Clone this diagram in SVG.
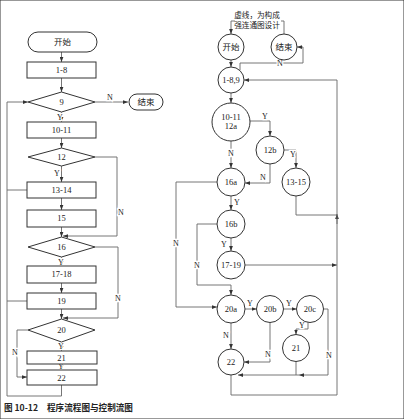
<svg xmlns="http://www.w3.org/2000/svg" width="404" height="419" viewBox="0 0 404 419">
<defs>
<marker id="a" viewBox="0 0 8 6" refX="8" refY="3" markerWidth="5" markerHeight="4" markerUnits="userSpaceOnUse" orient="auto"><path d="M0,0 L8,3 L0,6z" fill="#333"/></marker>
</defs>
<style>
rect,circle,polygon{fill:#fff;stroke:#333;stroke-width:1}
.c path{fill:none;stroke:#666;stroke-width:0.9}
.ar{marker-end:url(#a)}
text{font-family:"Liberation Serif","Noto Sans CJK SC",serif;font-size:8.5px;fill:#222;text-anchor:middle}
.cj{font-family:"Noto Sans CJK SC",sans-serif;font-size:8.5px}
.nt{font-family:"Noto Sans CJK SC",sans-serif;font-size:7.6px}
.l{font-size:8px;stroke:#fff;stroke-width:2.5px;paint-order:stroke}
.cap{font-family:"Noto Sans CJK SC",sans-serif;font-size:8.6px;font-weight:bold;text-anchor:start}
</style>
<rect width="404" height="419" fill="#fff" stroke="none"/>
<g class="c" id="connectors">
<path class="ar" d="M61.5,52V62"/>
<path class="ar" d="M61.5,78V92"/>
<path class="ar" d="M61.5,112V122"/>
<path class="ar" d="M95,102H128"/>
<path class="ar" d="M61.5,138V148"/>
<path class="ar" d="M61.5,166V182"/>
<path class="ar" d="M61.5,198V210"/>
<path class="ar" d="M61.5,227V237"/>
<path class="ar" d="M95,157H117V236H63"/>
<path class="ar" d="M61.5,257V266"/>
<path class="ar" d="M61.5,283V293"/>
<path class="ar" d="M61.5,309V319"/>
<path class="ar" d="M95,247H118V318H63"/>
<path class="ar" d="M61.5,342V351"/>
<path class="ar" d="M61.5,364V370"/>
<path class="ar" d="M28,330H17V377H27"/>
<path class="ar" d="M61.5,385V396H7V102H28"/>
<path d="M27,190H7"/>
<path d="M27,301H7"/>
<path class="ar" d="M235,21H231V34"/>
<path d="M281,21H284V34"/>
<path class="ar" d="M231,60V67"/>
<path class="ar" d="M231,93V103"/>
<path class="ar" d="M240,70V63H303V47H297"/>
<path class="ar" d="M250,121H270V136"/>
<path class="ar" d="M231,141V168"/>
<path class="ar" d="M284,150H296V168"/>
<path class="ar" d="M270,164V183H245"/>
<path class="ar" d="M217,182H176V307H217"/>
<path class="ar" d="M231,196V210"/>
<path d="M296,196V215H337"/>
<path class="ar" d="M337,224V214"/>
<path class="ar" d="M217,224H197V285H231V295"/>
<path class="ar" d="M231,238V251"/>
<path class="ar" d="M245,265H337"/>
<path class="ar" d="M245,309H256.5"/>
<path class="ar" d="M283.5,309H296.5"/>
<path class="ar" d="M308,322V329H296V334.5"/>
<path class="ar" d="M323.5,309H328V375H299"/>
<path class="ar" d="M299,375H238"/>
<path d="M296,361.5V375"/>
<path class="ar" d="M231,323V349"/>
<path class="ar" d="M270,322.5V362H244"/>
<path class="ar" d="M231,375V395H337V80H244"/>
</g>
<g id="labels">
<text class="l" x="110" y="100">N</text>
<text class="l" x="60" y="120">Y</text>
<text class="l" x="57" y="176">Y</text>
<text class="l" x="121" y="215">N</text>
<text class="l" x="61" y="265">Y</text>
<text class="l" x="118" y="301">N</text>
<text class="l" x="61" y="349">Y</text>
<text class="l" x="61" y="369">Y</text>
<text class="l" x="15" y="355">N</text>
<text class="l" x="280" y="66">N</text>
<text class="l" x="265" y="119">Y</text>
<text class="l" x="231" y="156">N</text>
<text class="l" x="293" y="157">Y</text>
<text class="l" x="263" y="180">N</text>
<text class="l" x="176" y="246">N</text>
<text class="l" x="237" y="205">Y</text>
<text class="l" x="197" y="268">N</text>
<text class="l" x="224" y="247">Y</text>
<text class="l" x="250" y="306">Y</text>
<text class="l" x="289" y="306">Y</text>
<text class="l" x="302" y="327.5">Y</text>
<text class="l" x="329" y="358">N</text>
<text class="l" x="226" y="338">N</text>
<text class="l" x="268" y="357">N</text>
</g>
<g id="L_start"><rect x="28" y="32" width="69" height="20" rx="10"/><text class="cj" x="62.5" y="45">开始</text></g>
<g id="L_1-8"><rect x="27" y="62" width="69" height="16"/><text x="61.5" y="73">1-8</text></g>
<g id="L_9"><polygon points="28,102 61.5,92 95,102 61.5,112"/><text x="61.5" y="105">9</text></g>
<g id="L_end"><rect x="129" y="94" width="34" height="16" rx="8"/><text class="cj" x="146" y="105">结束</text></g>
<g id="L_10-11"><rect x="27" y="122" width="69" height="16"/><text x="61.5" y="133">10-11</text></g>
<g id="L_12"><polygon points="28,157 61.5,148 95,157 61.5,166"/><text x="61.5" y="160">12</text></g>
<g id="L_13-14"><rect x="27" y="182" width="69" height="16"/><text x="61.5" y="193">13-14</text></g>
<g id="L_15"><rect x="27" y="210" width="69" height="17"/><text x="61.5" y="221">15</text></g>
<g id="L_16"><polygon points="28,247 61.5,237 95,247 61.5,257"/><text x="61.5" y="250">16</text></g>
<g id="L_17-18"><rect x="27" y="266" width="69" height="17"/><text x="61.5" y="277">17-18</text></g>
<g id="L_19"><rect x="27" y="293" width="69" height="16"/><text x="61.5" y="304">19</text></g>
<g id="L_20"><polygon points="28,330 61.5,319 95,330 61.5,342"/><text x="61.5" y="333">20</text></g>
<g id="L_21"><rect x="27" y="351" width="70" height="13"/><text x="61.5" y="360.5">21</text></g>
<g id="L_22"><rect x="27" y="370" width="70" height="15"/><text x="61.5" y="380.5">22</text></g>
<g id="note"><text class="nt" x="257" y="18">虚线，为构成</text><text class="nt" x="257" y="27.5">强连通图设计</text></g>
<g id="R_start"><circle cx="231" cy="47" r="13"/><text class="cj" x="231" y="50">开始</text></g>
<g id="R_end"><circle cx="284" cy="47" r="13"/><text class="cj" x="284" y="50">结束</text></g>
<g id="R_1-8-9"><circle cx="231" cy="80" r="13"/><text x="231" y="83">1-8,9</text></g>
<g id="R_10-11-12a"><circle cx="231" cy="122" r="19"/><text x="231" y="120">10-11</text><text x="231" y="128.5">12a</text></g>
<g id="R_12b"><circle cx="270" cy="150" r="14"/><text x="270" y="153">12b</text></g>
<g id="R_13-15"><circle cx="296" cy="182" r="14"/><text x="296" y="185">13-15</text></g>
<g id="R_16a"><circle cx="231" cy="182" r="14"/><text x="231" y="185">16a</text></g>
<g id="R_16b"><circle cx="231" cy="224" r="14"/><text x="231" y="227">16b</text></g>
<g id="R_17-19"><circle cx="231" cy="265" r="14"/><text x="231" y="268">17-19</text></g>
<g id="R_20a"><circle cx="231" cy="309" r="14"/><text x="231" y="312">20a</text></g>
<g id="R_20b"><circle cx="270" cy="309" r="13.5"/><text x="270" y="312">20b</text></g>
<g id="R_20c"><circle cx="310" cy="309" r="13.5"/><text x="310" y="312">20c</text></g>
<g id="R_21"><circle cx="296" cy="348" r="13.5"/><text x="296" y="351">21</text></g>
<g id="R_22"><circle cx="231" cy="362" r="13"/><text x="231" y="365">22</text></g>
<g id="caption"><text class="cap" x="4" y="411">图 10-12</text><text class="cap" x="47" y="411">程序流程图与控制流图</text></g>
</svg>
